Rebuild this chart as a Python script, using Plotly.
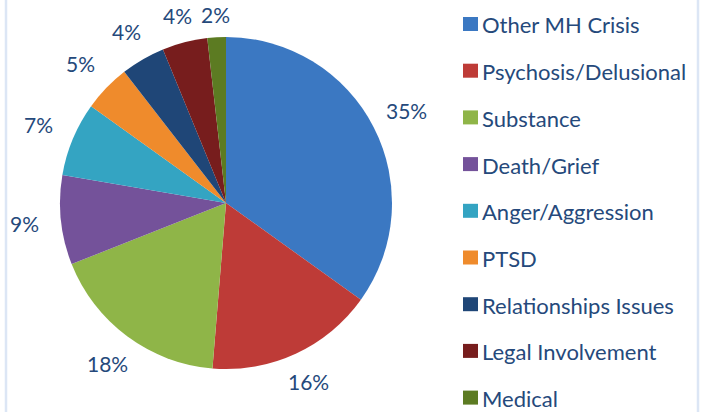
import math
import plotly.graph_objects as go

# データ
categories = ['Other MH Crisis', 'Psychosis/Delusional', 'Substance', 'Death/Grief',
              'Anger/Aggression', 'PTSD', 'Relationships Issues', 'Legal Involvement', 'Medical']
shares = [34.9, 16.4, 17.7, 8.7, 7.2, 4.6, 4.3, 4.4, 1.8]
colors = ['#3B78C2', '#BE3B37', '#8FB548', '#74529A', '#34A4C2',
          '#EF8B2C', '#1F4677', '#771D1D', '#5C7B22']

W, H = 704, 412
TEXT = '#25497B'
FONT = 'Lato, Open Sans, sans-serif'

# 円の位置（ピクセル）
CX, CY, R = 226, 203, 166

fig = go.Figure(go.Pie(
    labels=categories,
    values=shares,
    sort=False,
    direction='clockwise',
    rotation=0,
    marker=dict(colors=colors, line=dict(width=0)),
    textinfo='none',
    domain=dict(x=[(CX - R) / W, (CX + R) / W], y=[1 - (CY + R) / H, 1 - (CY - R) / H]),
    showlegend=False,
))

shapes = []
annotations = []

# パーセントラベル（円の外側）
total = sum(shares)
cum = 0
for v in shares:
    mid = (cum + v / 2) / total * 2 * math.pi
    cum += v
    s, c = math.sin(mid), math.cos(mid)
    d = R + 14 + abs(s) * 22 + abs(c) * 8
    x = CX + d * s
    y = CY - d * c
    annotations.append(dict(text=f'{v / total:.0%}', xref='paper', yref='paper',
                            x=x / W, y=1 - y / H, xanchor='center', yanchor='middle',
                            showarrow=False, font=dict(size=21, color=TEXT, family=FONT)))

# 凡例（手作り、項目間隔を広く）
for i, (name, col) in enumerate(zip(categories, colors)):
    y = 1 - (24 + i * 46.7) / H
    shapes.append(dict(type='rect', xref='paper', yref='paper',
                       x0=463 / W, x1=478 / W, y0=y - 7 / H, y1=y + 7 / H,
                       fillcolor=col, line=dict(width=0)))
    annotations.append(dict(text=name, xref='paper', yref='paper', x=480 / W, y=y - 1 / H,
                            xanchor='left', yanchor='middle', showarrow=False,
                            font=dict(size=22, color=TEXT, family=FONT)))

# 枠線（薄い青）
for x in (6, 698):
    shapes.append(dict(type='line', xref='paper', yref='paper', x0=x / W, x1=x / W,
                       y0=0, y1=1, line=dict(color='#DCE6F5', width=2.5)))

fig.update_layout(
    width=W, height=H,
    margin=dict(l=0, r=0, t=0, b=0),
    paper_bgcolor='white',
    shapes=shapes,
    annotations=annotations,
)

fig.write_html('out.html', config={'displayModeBar': False},
               post_script="document.body.style.margin='0';")
